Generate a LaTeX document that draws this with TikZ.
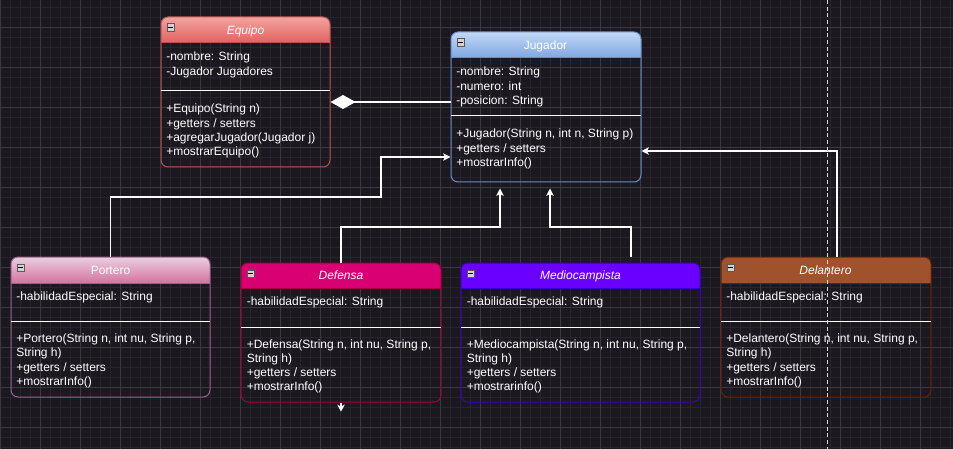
\documentclass[tikz,border=0pt]{standalone}
\usepackage{fontspec}
\setmainfont{Liberation Sans}
\usetikzlibrary{arrows.meta,fit}
\definecolor{bg}{HTML}{1B1820}
\definecolor{gminor}{HTML}{27242D}
\definecolor{gmajor}{HTML}{3B3842}
\definecolor{eqA}{HTML}{F3A3A0}
\definecolor{eqB}{HTML}{E0625E}
\definecolor{eqS}{HTML}{B85450}
\definecolor{juA}{HTML}{C2D8F7}
\definecolor{juB}{HTML}{7EA6E0}
\definecolor{juS}{HTML}{6C8EBF}
\definecolor{poA}{HTML}{EACFE0}
\definecolor{poB}{HTML}{D5739D}
\definecolor{poS}{HTML}{996185}
\definecolor{deF}{HTML}{D80073}
\definecolor{deS}{HTML}{A50040}
\definecolor{meF}{HTML}{6A00FF}
\definecolor{meS}{HTML}{3700CC}
\definecolor{dlF}{HTML}{A0522D}
\definecolor{dlS}{HTML}{6D1F00}
\definecolor{dashc}{HTML}{D8D8DC}

\newcommand\umlbox[8]{%
  \begin{scope}
    \clip[rounded corners=5.25pt] (#2,#3) rectangle (#4,#5);
    \path[#7] (#2,#3) rectangle (#4,#6);
  \end{scope}
  \draw[#8, line width=0.75pt] (#2,#6) -- (#4,#6);
  \node[fit={(#2,#3) (#4,#5)}, inner sep=0pt, draw=#8, line width=0.75pt, rounded corners=5.25pt] (#1) {};
  \node[minusicon] (#1-icon) at (#2+9.5,#3+10.5) {};
  \draw[black, line width=0.6pt] ([xshift=-1.6pt]#1-icon.center) -- ([xshift=1.6pt]#1-icon.center);
}
\newcommand\txtlines[4]{%
  \foreach \t [count=\i from 0] in {#4} {
    \node[txt, anchor=base west] (#1\i) at (#2, #3 + \i*14.3) {\t};
  }
}

\begin{document}
\begin{tikzpicture}[x=0.75pt,y=-0.75pt,
  txt/.style={inner sep=0pt, text=white, font=\fontsize{9}{10.8}\selectfont},
  ttl/.style={inner sep=0pt, text=white, anchor=base, font=\fontsize{9}{10.8}\selectfont},
  ttli/.style={ttl, font=\fontsize{9}{10.8}\selectfont\itshape},
  minusicon/.style={draw=gray!70!black, fill=gray!35!white, minimum size=5.6pt, inner sep=0pt, line width=0.4pt},
  sepline/.style={white, line width=0.75pt},
  conn/.style={white, line width=0.9pt},
  inh/.style={-{Stealth[length=5.5pt,width=5.5pt,inset=1.3pt]}},
  comp/.style={-{Diamond[length=18.75pt,width=10.5pt,fill=white]}}
]
\useasboundingbox (0,0) rectangle (953,449);
\fill[bg] (0,0) rectangle (953,449);
\foreach \x in {0,10,...,950} \draw[gminor, line width=0.6pt] (\x,0) -- (\x,449);
\foreach \y in {7,17,...,447} \draw[gminor, line width=0.6pt] (0,\y) -- (953,\y);
\foreach \x in {0,40,...,920} \draw[gmajor, line width=0.6pt] (\x,0) -- (\x,449);
\foreach \y in {27,67,...,427} \draw[gmajor, line width=0.6pt] (0,\y) -- (953,\y);

% Equipo
\umlbox{equipo}{161}{17}{330}{167}{43}{top color=eqA,bottom color=eqB}{eqS}
\node[ttli] (equipo-t) at (245.5,34.7) {Equipo};
\txtlines{equipo-a}{166}{61}{{-nombre: String},{-Jugador Jugadores}}
\draw[sepline] (161,91) -- (330,91);
\txtlines{equipo-o}{166}{113}{{+Equipo(String n)},{+getters / setters},{+agregarJugador(Jugador j)},{+mostrarEquipo()}}

% Jugador
\umlbox{jugador}{451}{32}{641}{182}{58}{top color=juA,bottom color=juB}{juS}
\node[ttl] (jugador-t) at (545.5,49.7) {Jugador};
\txtlines{jugador-a}{456}{76}{{-nombre: String},{-numero: int},{-posicion: String}}
\draw[sepline] (451,116) -- (641,116);
\txtlines{jugador-o}{456}{138}{{+Jugador(String n, int n, String p)},{+getters / setters},{+mostrarInfo()}}

% Portero
\umlbox{portero}{11}{257}{210}{397}{283}{top color=poA,bottom color=poB}{poS}
\node[ttl] (portero-t) at (110.5,274.7) {Portero};
\txtlines{portero-a}{16}{300.7}{{-habilidadEspecial: String}}
\draw[sepline] (11,321) -- (210,321);
\txtlines{portero-o}{16}{342.5}{{+Portero(String n, int nu, String p,},{String h)},{+getters / setters},{+mostrarInfo()}}

% Defensa
\umlbox{defensa}{241}{263}{441}{402}{288}{fill=deF}{deS}
\node[ttli] (defensa-t) at (341,279.7) {Defensa};
\txtlines{defensa-a}{246.5}{305.7}{{-habilidadEspecial: String}}
\draw[sepline] (241,327) -- (441,327);
\txtlines{defensa-o}{246.5}{348}{{+Defensa(String n, int nu, String p,},{String h)},{+getters / setters},{+mostrarInfo()}}

% Mediocampista
\umlbox{medio}{461}{263}{700}{402}{288}{fill=meF}{meS}
\node[ttli] (medio-t) at (580.5,279.7) {Mediocampista};
\txtlines{medio-a}{466.5}{305.7}{{-habilidadEspecial: String}}
\draw[sepline] (461,327) -- (700,327);
\txtlines{medio-o}{466.5}{348}{{+Mediocampista(String n, int nu, String p,},{String h)},{+getters / setters},{+mostrarinfo()}}

% Delantero
\umlbox{delantero}{721}{257}{931}{397}{283}{fill=dlF}{dlS}
\node[ttli] (delantero-t) at (825.5,274.7) {Delantero};
\txtlines{delantero-a}{726}{300}{{-habilidadEspecial: String}}
\draw[sepline] (721,321) -- (931,321);
\txtlines{delantero-o}{726}{342.5}{{+Delantero(String n, int nu, String p,},{String h)},{+getters / setters},{+mostrarInfo()}}

% connectors
\draw[conn, comp] (jugador.west |- 0,102) -- (equipo.east |- 0,102);
\draw[conn, inh] (portero.north) |- (381,197) |- (jugador.west |- 0,157);
\draw[conn, inh, shorten >=4.5pt] (defensa.north) |- (500,227) -- (jugador.south -| 500,0);
\draw[conn, inh, shorten <=4.5pt, shorten >=4.5pt] (medio.north -| 631,0) |- (550,227) -- (jugador.south -| 550,0);
\draw[conn, inh] (delantero.north -| 837,0) |- (jugador.east |- 0,151);
\draw[conn, -{Stealth[length=5pt,width=5.5pt,inset=1.2pt]}] (defensa.south) -- ++(0,9);

% dashed guide
\coordinate (g1) at (827,0);
\coordinate (g2) at (827,449);
\draw[dashc, line width=0.75pt, dash pattern=on 3pt off 2pt] (g1) -- (g2);
\end{tikzpicture}
\end{document}
